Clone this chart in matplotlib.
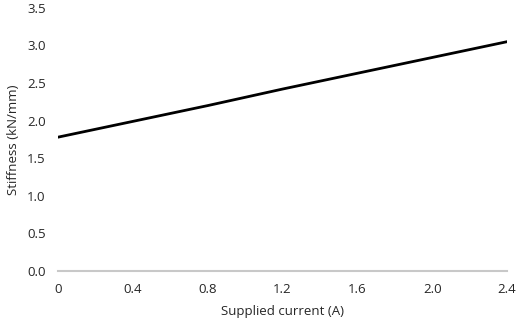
import matplotlib
matplotlib.use("Agg")
import matplotlib.pyplot as plt

# supplied current (A) vs stiffness (kN/mm)
current = [0.0, 0.4, 0.8, 1.2, 1.6, 2.0, 2.4]
stiffness = [1.78, 1.99, 2.20, 2.42, 2.63, 2.84, 3.05]

x_ticks = [0.0, 0.4, 0.8, 1.2, 1.6, 2.0, 2.4]
x_labels = ["0", "0.4", "0.8", "1.2", "1.6", "2.0", "2.4"]
y_ticks = [0.0, 0.5, 1.0, 1.5, 2.0, 2.5, 3.0, 3.5]

plt.rcParams['font.family'] = ['Open Sans', 'DejaVu Sans']

fig = plt.figure(figsize=(5.19, 3.28), dpi=100)
ax = fig.add_axes([0.112, 0.174, 0.865, 0.802])

ax.plot(current, stiffness, color='black', linewidth=2.0)

ax.set_xlim(0, 2.4)
ax.set_ylim(0, 3.5)
ax.set_xticks(x_ticks)
ax.set_xticklabels(x_labels)
ax.set_yticks(y_ticks)
ax.set_yticklabels([f"{v:.1f}" for v in y_ticks])

for side in ['top', 'right', 'left']:
    ax.spines[side].set_visible(False)
ax.spines['bottom'].set_color('#c8c8c8')
ax.spines['bottom'].set_linewidth(1.5)

ax.tick_params(axis='both', length=0, labelsize=9.5, colors='#262626', pad=9)
ax.tick_params(axis='y', pad=9)

ax.set_xlabel("Supplied current (A)", fontsize=9.5, color='#262626', labelpad=6)
ax.set_ylabel("Stiffness (kN/mm)", fontsize=9.5, color='#262626')
ax.yaxis.set_label_coords(-0.085, 0.5)

fig.savefig("out.png", dpi=100)
